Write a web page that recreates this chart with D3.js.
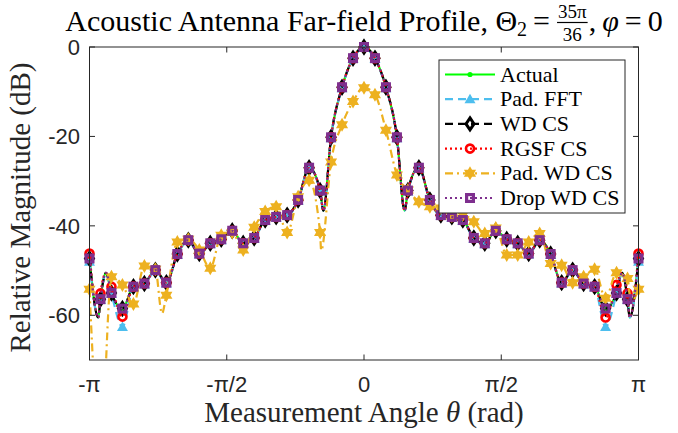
<!DOCTYPE html>
<html>
<head>
<meta charset="utf-8">
<script src="https://cdn.jsdelivr.net/npm/d3@7"></script>
<style>
  body { margin: 0; background: #fff; }
</style>
</head>
<body>
<script>
  // ---- data (51 samples from -pi to pi) ----
  const nPts = 51;
  const sampleIdx = d3.range(nPts);

  const actual = [-47.3, -56.4, -55.0, -58.5, -53.6, -52.9, -49.9, -52.7, -46.3, -43.2,
    -46.2, -43.9, -43.0, -41.1, -43.9, -42.7, -38.7, -38.0, -37.6, -34.2,
    -27.0, -32.1, -20.2, -9.0, -2.5, 0.0, -2.5, -9.0, -20.2, -32.1,
    -27.0, -34.2, -37.6, -38.0, -38.7, -42.7, -43.9, -41.1, -43.0, -43.9,
    -46.2, -43.2, -46.3, -52.7, -49.9, -52.9, -53.6, -58.5, -55.0, -56.4, -47.3];

  const padFFT = [-48.0, -56.6, -55.2, -62.6, -53.8, -53.1, -50.1, -52.9, -46.5, -43.4,
    -46.4, -44.1, -43.2, -41.3, -44.1, -42.9, -38.9, -38.2, -37.8, -34.4,
    -27.2, -32.3, -20.4, -9.2, -2.7, -0.2, -2.7, -9.2, -20.4, -32.3,
    -27.2, -34.4, -37.8, -38.2, -38.9, -42.9, -44.1, -41.3, -43.2, -44.1,
    -46.4, -43.4, -46.5, -52.9, -50.1, -53.1, -53.8, -62.6, -55.2, -56.6, -48.0];

  const wdCS = [-47.3, -56.4, -55.0, -58.5, -53.6, -52.9, -49.9, -52.7, -46.3, -43.2,
    -46.2, -43.9, -43.0, -41.1, -43.9, -42.7, -38.7, -38.0, -37.6, -34.2,
    -27.0, -32.1, -20.2, -9.0, -2.5, 0.0, -2.5, -9.0, -20.2, -32.1,
    -27.0, -34.2, -37.6, -38.0, -38.7, -42.7, -43.9, -41.1, -43.0, -43.9,
    -46.2, -43.2, -46.3, -52.7, -49.9, -52.9, -53.6, -58.5, -55.0, -56.4, -47.3];

  const rgsfCS = [-46.2, -55.1, -53.6, -60.3, -53.6, -52.9, -49.9, -52.7, -46.3, -43.2,
    -46.2, -43.9, -43.0, -41.1, -43.9, -42.7, -38.7, -38.0, -37.6, -34.2,
    -27.0, -32.1, -20.2, -9.0, -2.5, 0.0, -2.5, -9.0, -20.2, -32.1,
    -27.0, -34.2, -37.6, -38.0, -38.7, -42.7, -43.9, -41.1, -43.0, -43.9,
    -46.2, -43.2, -46.3, -52.7, -49.9, -52.9, -53.6, -60.5, -53.2, -55.1, -46.2];

  const padWdCS = [-54.2, -90.0, -51.4, -53.2, -57.5, -49.0, -49.7, -55.5, -43.6, -43.0,
    -45.4, -49.5, -42.1, -41.5, -45.4, -40.3, -36.8, -35.7, -41.5, -33.5,
    -29.8, -41.5, -25.7, -17.4, -12.2, -9.1, -10.7, -18.6, -28.6, -32.0,
    -34.6, -35.7, -36.0, -37.8, -37.5, -39.1, -41.7, -40.5, -46.5, -46.5,
    -43.6, -41.7, -48.4, -48.8, -52.7, -51.4, -49.7, -56.2, -50.5, -51.8, -54.2];

  const dropWdCS = [-47.3, -56.4, -55.0, -58.5, -53.6, -52.9, -49.9, -52.7, -46.3, -43.2,
    -46.2, -43.9, -43.0, -41.1, -43.9, -42.7, -38.7, -38.0, -37.6, -34.2,
    -27.0, -32.1, -20.2, -9.0, -2.5, 0.0, -2.5, -9.0, -20.2, -32.1,
    -27.0, -34.2, -37.6, -38.0, -38.7, -42.7, -43.9, -41.1, -43.0, -43.9,
    -46.2, -43.2, -46.3, -52.7, -49.9, -52.9, -53.6, -58.5, -55.0, -56.4, -47.3];

  // nulls / lobes the fine curves show between the markers: [sample position, dB]
  const mainDips = [[0.8, -60.5], [1.5, -50.5], [21.3, -36.6], [28.7, -36.6], [48.5, -50.5], [49.2, -60.5]];
  const padWdDips = [[6.6, -59.6], [21.1, -45.5], [49.3, -57.0]];

  const seriesNames = ['Actual', 'Pad. FFT', 'WD CS', 'RGSF CS', 'Pad. WD CS', 'Drop WD CS'];

  const xTickVals = [-Math.PI, -Math.PI / 2, 0, Math.PI / 2, Math.PI];
  const xTickText = ['-π', '-π/2', '0', 'π/2', 'π'];
  const yTickVals = [-60, -40, -20, 0];

  // ---- layout ----
  const width = 678, height = 433;
  const plot = { left: 89.5, right: 638.5, top: 47, bottom: 360 };
  const serif = '"Liberation Serif", "DejaVu Serif", serif';
  const sans = '"Liberation Sans", Arial, sans-serif';
  const axisColor = '#262626';

  const svg = d3.select('body').append('svg')
    .attr('width', width)
    .attr('height', height);

  svg.append('rect')
    .attr('width', width)
    .attr('height', height)
    .attr('fill', '#fff');

  const xScale = d3.scaleLinear().domain([-Math.PI, Math.PI]).range([plot.left, plot.right]);
  const yScale = d3.scaleLinear().domain([-70, 0]).range([plot.bottom, plot.top]);
  // sample position -> angle
  const posToAngle = d3.scaleLinear().domain([0, nPts - 1]).range([-Math.PI, Math.PI]);

  svg.append('clipPath').attr('id', 'plotClip')
    .append('rect')
    .attr('x', plot.left)
    .attr('y', plot.top)
    .attr('width', plot.right - plot.left)
    .attr('height', plot.bottom - plot.top);

  // marker shapes
  function hexagram(r) {
    let pts = [];
    for (let k = 0; k < 12; k++) {
      let rad = (k % 2 === 0) ? r : r / Math.sqrt(3);
      let a = -Math.PI / 2 + k * Math.PI / 6;
      pts.push([rad * Math.cos(a), rad * Math.sin(a)]);
    }
    return 'M' + pts.map(p => p[0].toFixed(2) + ',' + p[1].toFixed(2)).join('L') + 'Z';
  }

  const markers = {
    dot: g => g.append('circle').attr('r', 2.6).attr('fill', '#00ff00'),
    triangle: g => g.append('path').attr('d', 'M0,-5.5L5.5,4L-5.5,4Z').attr('fill', '#4dbeee'),
    diamond: g => g.append('path').attr('d', 'M0,-6L4,0L0,6L-4,0Z')
      .attr('fill', 'none').attr('stroke', '#000').attr('stroke-width', 3),
    circle: g => g.append('circle').attr('r', 4)
      .attr('fill', 'none').attr('stroke', '#ff0000').attr('stroke-width', 2.6),
    star: g => g.append('path').attr('d', hexagram(7)).attr('fill', '#edb120'),
    square: g => g.append('rect').attr('x', -3.4).attr('y', -3.4).attr('width', 6.8).attr('height', 6.8)
      .attr('fill', 'none').attr('stroke', '#7e2f8e').attr('stroke-width', 3.2)
  };

  const series = [
    { name: seriesNames[0], values: actual, dips: mainDips, color: '#00ff00', dash: null, marker: 'dot' },
    { name: seriesNames[1], values: padFFT, dips: mainDips, color: '#4dbeee', dash: '8,5', marker: 'triangle' },
    { name: seriesNames[2], values: wdCS, dips: mainDips, color: '#000000', dash: '8,5', marker: 'diamond' },
    { name: seriesNames[3], values: rgsfCS, dips: mainDips, color: '#ff0000', dash: '2,3', marker: 'circle' },
    { name: seriesNames[4], values: padWdCS, dips: padWdDips, color: '#edb120', dash: '8,4,2,4', marker: 'star' },
    { name: seriesNames[5], values: dropWdCS, dips: mainDips, color: '#7e2f8e', dash: '2,3', marker: 'square' }
  ];

  const line = d3.line()
    .x(d => xScale(posToAngle(d[0])))
    .y(d => yScale(d[1]))
    .curve(d3.curveMonotoneX);

  series.forEach(s => {
    let pts = sampleIdx.map(i => [i, s.values[i]]).concat(s.dips);
    pts.sort((a, b) => a[0] - b[0]);

    svg.append('path')
      .datum(pts)
      .attr('clip-path', 'url(#plotClip)')
      .attr('d', line)
      .attr('fill', 'none')
      .attr('stroke', s.color)
      .attr('stroke-width', 2.2)
      .attr('stroke-dasharray', s.dash);

    sampleIdx.filter(i => s.values[i] >= -70).forEach(i => {
      let g = svg.append('g')
        .attr('transform', 'translate(' + xScale(posToAngle(i)) + ',' + yScale(s.values[i]) + ')');
      markers[s.marker](g);
    });
  });

  // ---- axes box and ticks ----
  svg.append('rect')
    .attr('x', plot.left)
    .attr('y', plot.top)
    .attr('width', plot.right - plot.left)
    .attr('height', plot.bottom - plot.top)
    .attr('fill', 'none')
    .attr('stroke', axisColor)
    .attr('stroke-width', 1);

  const tickLen = 5.5;
  xTickVals.forEach((v, i) => {
    let x = xScale(v);
    svg.append('line').attr('x1', x).attr('x2', x).attr('y1', plot.bottom).attr('y2', plot.bottom - tickLen)
      .attr('stroke', axisColor);
    svg.append('line').attr('x1', x).attr('x2', x).attr('y1', plot.top).attr('y2', plot.top + tickLen)
      .attr('stroke', axisColor);
    svg.append('text')
      .attr('x', x)
      .attr('y', 392)
      .attr('text-anchor', 'middle')
      .style('font-family', sans)
      .style('font-size', '22px')
      .style('fill', axisColor)
      .text(xTickText[i]);
  });

  yTickVals.forEach(v => {
    let y = yScale(v);
    svg.append('line').attr('x1', plot.left).attr('x2', plot.left + tickLen).attr('y1', y).attr('y2', y)
      .attr('stroke', axisColor);
    svg.append('line').attr('x1', plot.right).attr('x2', plot.right - tickLen).attr('y1', y).attr('y2', y)
      .attr('stroke', axisColor);
    svg.append('text')
      .attr('x', 80)
      .attr('y', y + 8)
      .attr('text-anchor', 'end')
      .style('font-family', sans)
      .style('font-size', '22px')
      .style('fill', axisColor)
      .text(v);
  });

  // ---- axis labels ----
  const xLabel = svg.append('text')
    .attr('x', (plot.left + plot.right) / 2)
    .attr('y', 422)
    .attr('text-anchor', 'middle')
    .style('font-family', serif)
    .style('font-size', '29px')
    .style('fill', axisColor);
  xLabel.append('tspan').text('Measurement Angle ');
  xLabel.append('tspan').style('font-style', 'italic').text('θ');
  xLabel.append('tspan').text(' (rad)');

  svg.append('text')
    .attr('transform', 'translate(30,' + ((plot.top + plot.bottom) / 2 + 4) + ')rotate(-90)')
    .attr('text-anchor', 'middle')
    .style('font-family', serif)
    .style('font-size', '29px')
    .style('fill', axisColor)
    .text('Relative Magnitude (dB)');

  // ---- title with stacked fraction ----
  const titleG = svg.append('g');
  const titleY = 31;
  const t1 = titleG.append('text')
    .attr('x', 0)
    .attr('y', titleY)
    .style('font-family', serif)
    .style('font-size', '30px')
    .style('fill', '#000');
  t1.append('tspan').text('Acoustic Antenna Far-field Profile, Θ');
  t1.append('tspan').attr('dy', 5).style('font-size', '20px').text('2');
  t1.append('tspan').attr('dy', -5).text('\u2009=');
  const w1 = t1.node().getComputedTextLength() + 7;

  const num = titleG.append('text')
    .attr('y', titleY - 13)
    .attr('text-anchor', 'middle')
    .style('font-family', serif)
    .style('font-size', '19px')
    .text('35π');
  const den = titleG.append('text')
    .attr('y', titleY + 10)
    .attr('text-anchor', 'middle')
    .style('font-family', serif)
    .style('font-size', '19px')
    .text('36');
  const fw = Math.max(num.node().getComputedTextLength(), den.node().getComputedTextLength()) + 2;
  num.attr('x', w1 + fw / 2);
  den.attr('x', w1 + fw / 2);
  titleG.append('line')
    .attr('x1', w1).attr('x2', w1 + fw)
    .attr('y1', titleY - 8.5).attr('y2', titleY - 8.5)
    .attr('stroke', '#000').attr('stroke-width', 1.2);

  const t3 = titleG.append('text')
    .attr('x', w1 + fw + 1)
    .attr('y', titleY)
    .style('font-family', serif)
    .style('font-size', '30px')
    .style('fill', '#000');
  t3.append('tspan').text(',\u2009');
  t3.append('tspan').style('font-style', 'italic').text('φ');
  t3.append('tspan').text('\u2009=\u20090');
  const total = w1 + fw + 1 + t3.node().getComputedTextLength();
  titleG.attr('transform', 'translate(' + ((plot.left + plot.right) / 2 - total / 2) + ',0)');

  // ---- legend ----
  const legend = { x: 439, y: 60, w: 186, h: 153, rowY: 74.5, step: 24.7 };
  svg.append('rect')
    .attr('x', legend.x)
    .attr('y', legend.y)
    .attr('width', legend.w)
    .attr('height', legend.h)
    .attr('fill', '#fff')
    .attr('stroke', axisColor)
    .attr('stroke-width', 1);

  series.forEach((s, i) => {
    let y = legend.rowY + i * legend.step;
    svg.append('line')
      .attr('x1', 445).attr('x2', 495)
      .attr('y1', y).attr('y2', y)
      .attr('stroke', s.color)
      .attr('stroke-width', 2.2)
      .attr('stroke-dasharray', s.dash);
    let g = svg.append('g').attr('transform', 'translate(470,' + y + ')');
    markers[s.marker](g);
    svg.append('text')
      .attr('x', 500)
      .attr('y', y + 7)
      .style('font-family', serif)
      .style('font-size', '22px')
      .style('fill', '#000')
      .text(s.name);
  });
</script>
</body>
</html>
